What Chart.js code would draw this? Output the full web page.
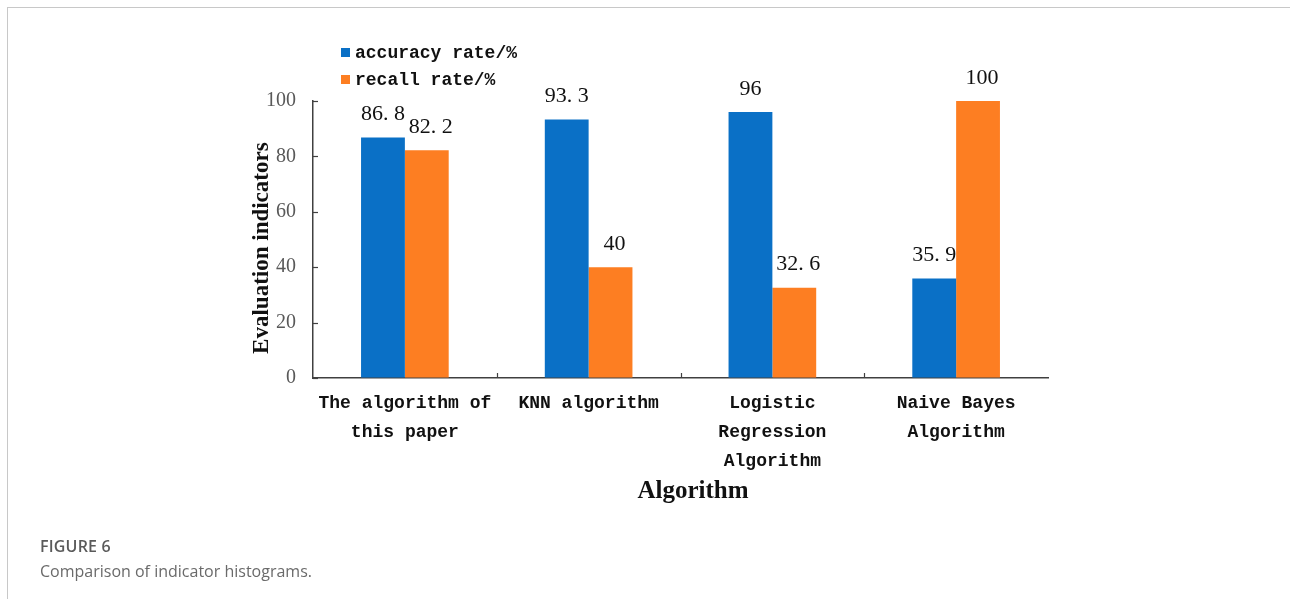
<!DOCTYPE html>
<html>
<head>
<meta charset="utf-8">
<script src="https://cdn.jsdelivr.net/npm/chart.js@4.4.1/dist/chart.umd.min.js"></script>
<style>
  html, body { margin: 0; padding: 0; background: #fff; }
  #wrap { position: relative; width: 1290px; height: 599px; overflow: hidden; }
  #frame { position: absolute; left: 7px; top: 7px; width: 1300px; height: 620px;
           border-top: 1.5px solid #c8c8c8; border-left: 1.5px solid #c8c8c8; box-sizing: border-box; }
  #cv { position: absolute; left: 0; top: 0; }
  #fig { position: absolute; left: 40px; top: 535px; font-family: "Open Sans", sans-serif;
         font-weight: 600; font-size: 16px; color: #5a5a5a; letter-spacing: 0.2px; }
  #cap { position: absolute; left: 40px; top: 560px; font-family: "Open Sans", sans-serif;
         font-size: 16px; color: #6a6a6a; }
</style>
</head>
<body>
<div id="wrap">
  <div id="frame"></div>
  <canvas id="cv" width="1290" height="599"></canvas>
  <div id="fig">FIGURE 6</div>
  <div id="cap">Comparison of indicator histograms.</div>
</div>
<script>
const categories = [
  ["The algorithm of", "this paper"],
  ["KNN algorithm"],
  ["Logistic", "Regression", "Algorithm"],
  ["Naive Bayes", "Algorithm"]
];
const seriesNames = ["accuracy rate/%", "recall rate/%"];
const accuracyRate = [86.8, 93.3, 96, 35.9];
const recallRate = [82.2, 40, 32.6, 100];
const yTicks = [0, 20, 40, 60, 80, 100];

const BLUE = "#0a70c6";
const ORANGE = "#fd7e22";
const AXIS = "#404040";

const legendPlugin = {
  id: "customLegend",
  afterDraw(chart) {
    const ctx = chart.ctx;
    ctx.save();
    ctx.font = "bold 18px 'Liberation Mono', monospace";
    ctx.textBaseline = "middle";
    ctx.textAlign = "left";
    chart.data.datasets.forEach((ds, i) => {
      const y = 53 + i * 27;
      ctx.fillStyle = ds.backgroundColor;
      ctx.fillRect(341, y - 5, 9, 9);
      ctx.fillStyle = "#111";
      ctx.fillText(ds.label, 355, y);
    });
    ctx.restore();
  }
};

const valueLabels = {
  id: "valueLabels",
  afterDatasetsDraw(chart) {
    const ctx = chart.ctx;
    ctx.save();
    ctx.font = "22px 'Liberation Serif', serif";
    ctx.fillStyle = "#111";
    ctx.textAlign = "center";
    ctx.textBaseline = "middle";
    chart.data.datasets.forEach((ds, di) => {
      const meta = chart.getDatasetMeta(di);
      meta.data.forEach((el, i) => {
        const txt = String(ds.data[i]).replace(".", ". ");
        ctx.fillText(txt, el.x + (di === 1 ? 4 : 0), el.y - 23);
      });
    });
    ctx.restore();
  }
};

const innerTicks = {
  id: "innerTicks",
  afterDraw(chart) {
    const ctx = chart.ctx;
    const xs = chart.scales.x, ys = chart.scales.y;
    const area = chart.chartArea;
    ctx.save();
    ctx.strokeStyle = AXIS;
    ctx.lineWidth = 1.2;
    ys.ticks.forEach(t => {
      const y = Math.round(ys.getPixelForValue(t.value)) + 0.5;
      ctx.beginPath();
      ctx.moveTo(area.left, y);
      ctx.lineTo(area.left + 5, y);
      ctx.stroke();
    });
    for (let i = 0; i < categories.length - 1; i++) {
      const x = Math.round((xs.getPixelForValue(i) + xs.getPixelForValue(i + 1)) / 2) + 0.5;
      ctx.beginPath();
      ctx.moveTo(x, area.bottom);
      ctx.lineTo(x, area.bottom - 5);
      ctx.stroke();
    }
    ctx.restore();
  }
};

new Chart(document.getElementById("cv"), {
  type: "bar",
  data: {
    labels: categories,
    datasets: [
      { label: seriesNames[0], data: accuracyRate, backgroundColor: BLUE },
      { label: seriesNames[1], data: recallRate, backgroundColor: ORANGE }
    ]
  },
  options: {
    responsive: false,
    animation: false,
    devicePixelRatio: 1,
    layout: { padding: { left: 233, right: 242, top: 101, bottom: 91 } },
    plugins: { legend: { display: false }, tooltip: { enabled: false } },
    datasets: { bar: { categoryPercentage: 0.477, barPercentage: 1.0 } },
    scales: {
      x: {
        afterFit(s) { s.height = 130; },
        grid: { display: true, drawOnChartArea: false, drawTicks: false, color: "rgba(0,0,0,0)" },
        border: { display: true, color: AXIS, width: 1.5 },
        ticks: {
          padding: 11,
          color: "#111",
          maxRotation: 0,
          autoSkip: false,
          font: { family: "'Liberation Mono', monospace", size: 18, weight: "bold", lineHeight: 1.6 }
        },
        title: {
          display: true,
          text: "    Algorithm",
          color: "#111",
          padding: { top: 0, bottom: 1 },
          font: { family: "'Liberation Serif', serif", size: 25, weight: "bold", lineHeight: 1.2 }
        }
      },
      y: {
        min: 0,
        max: 100,
        afterFit(s) { s.width = 80; },
        afterBuildTicks(s) { s.ticks = yTicks.map(v => ({ value: v })); },
        grid: { display: true, drawOnChartArea: false, drawTicks: false, color: "rgba(0,0,0,0)" },
        border: { display: true, color: AXIS, width: 1.5 },
        ticks: {
          padding: 17,
          color: "#595959",
          font: { family: "'Liberation Serif', serif", size: 20 }
        },
        title: {
          display: true,
          text: "Evaluation indicators   ",
          color: "#111",
          padding: { top: 15, bottom: 0 },
          font: { family: "'Liberation Serif', serif", size: 23, weight: "bold", lineHeight: 1.2 }
        }
      }
    }
  },
  plugins: [legendPlugin, valueLabels, innerTicks]
});
</script>
</body>
</html>
